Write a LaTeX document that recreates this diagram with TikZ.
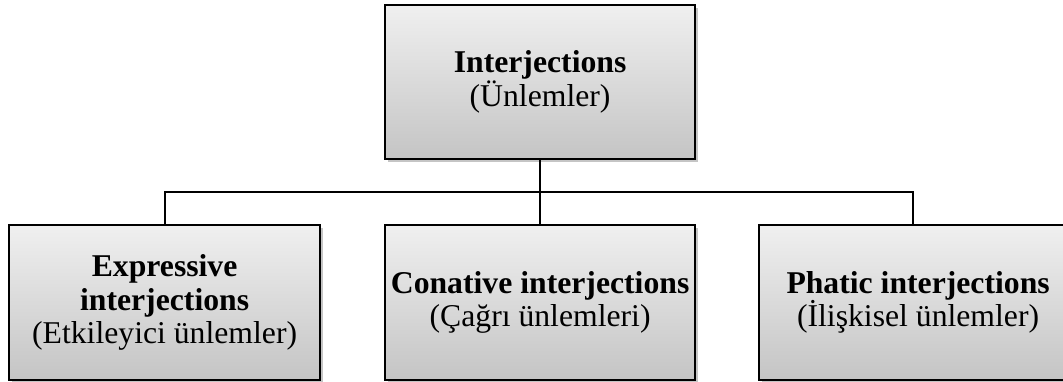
\documentclass[tikz,border=0pt]{standalone}
\usepackage{fontspec}
\setmainfont{Liberation Serif}
\usetikzlibrary{shadows}
\tikzset{
  x=1pt, y=-1pt,
  catbox/.style={draw=black, line width=2.2pt, top color=white!94!black, bottom color=black!23,
    shading angle=0, align=center, inner sep=0pt, anchor=north west,
    font=\fontsize{31.7}{33.5}\selectfont,
    drop shadow={shadow xshift=2.5pt, shadow yshift=-2.5pt, fill=black!45, opacity=0.5}},
  link/.style={draw=black, line width=2.2pt},
}
\begin{document}
\begin{tikzpicture}
\useasboundingbox (0,0) rectangle (1063,382);
\node[catbox, minimum width=310pt, minimum height=154pt] (top) at (384,4)
  {\textbf{Interjections}\\(Ünlemler)};
\node[catbox, minimum width=311pt, minimum height=155pt] (left) at (8,224)
  {\textbf{Expressive}\\\textbf{interjections}\\(Etkileyici ünlemler)};
\node[catbox, minimum width=310pt, minimum height=155pt] (mid) at (384,224)
  {\textbf{Conative interjections}\\(Çağrı ünlemleri)};
\node[catbox, minimum width=318pt, minimum height=155pt] (right) at (758,224)
  {\textbf{Phatic interjections}\\(İlişkisel ünlemler)};
\coordinate (j) at (913,192);
\coordinate (k) at (539,192);
\draw[link] (top.south) -- (mid.north);
\draw[link] (left.north) |- (k) -- (j) -- (j |- right.north);
\end{tikzpicture}
\end{document}
